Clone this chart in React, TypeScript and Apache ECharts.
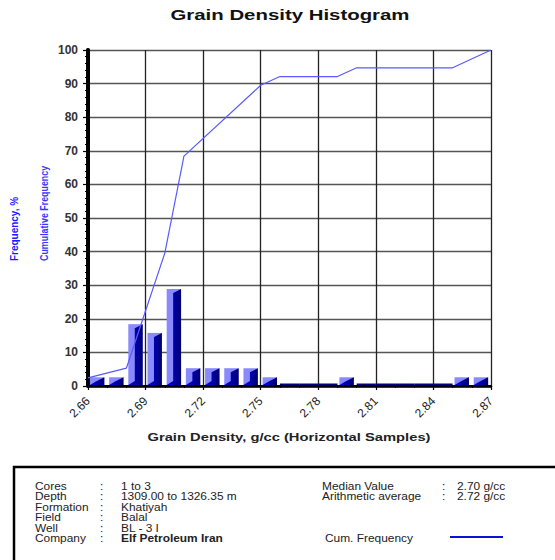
import React, { useEffect, useRef } from "react";
import * as echarts from "echarts";

// Bin start densities (g/cc), bin width 0.01
const binStarts = [
  2.66, 2.67, 2.68, 2.69, 2.7, 2.71, 2.72, 2.73, 2.74, 2.75, 2.76,
  2.77, 2.78, 2.79, 2.8, 2.81, 2.82, 2.83, 2.84, 2.85, 2.86,
];
// Frequency % per bin
const frequency = [
  2.6, 2.6, 18.4, 15.8, 28.9, 5.3, 5.3, 5.3, 5.3, 2.6, 0,
  0, 0, 2.6, 0, 0, 0, 0, 0, 2.6, 2.6,
];
// Cumulative frequency line vertices
const cumDensity = [2.66, 2.68, 2.7, 2.71, 2.75, 2.76, 2.79, 2.8, 2.85, 2.87];
const cumValue = [2.4, 5.3, 39.5, 68.4, 89.5, 92.1, 92.1, 94.7, 94.7, 100];

const xMin = 2.66;
const xMax = 2.87;
const xTickStep = 0.03;
const yTicks = [0, 10, 20, 30, 40, 50, 60, 70, 80, 90, 100];

const infoLeft = [
  ["Cores", "1 to 3"],
  ["Depth", "1309.00 to 1326.35 m"],
  ["Formation", "Khatiyah"],
  ["Field", "Balal"],
  ["Well", "BL - 3 I"],
  ["Company", "Elf Petroleum Iran"],
];
const infoRight = [
  ["Median Value", "2.70 g/cc"],
  ["Arithmetic average", "2.72 g/cc"],
];

const toAxis = (d: number) => Math.round((d - xMin) * 100 * 1000) / 1000;

const FONT = "'Liberation Sans', Arial, sans-serif";
const NARROW = "'Liberation Sans Narrow', 'Liberation Sans', Arial, sans-serif";
const SX = 1.19;

export default function App() {
  const ref = useRef<HTMLDivElement>(null);

  useEffect(() => {
    document.body.style.margin = "0";
    if (!ref.current) return;
    const chart = echarts.init(ref.current, null, { renderer: "svg" });

    const barData = binStarts.map((b, i) => [toAxis(b), toAxis(b) + 1, frequency[i]]);
    const cumData = cumDensity.map((d, i) => [toAxis(d), cumValue[i]]);

    const rowY = [486, 496.5, 507, 517.5, 528, 538.5];
    const txt = (x: number, y: number, text: string, bold = false) => ({
      type: "text",
      x,
      y,
      scaleX: SX,
      style: { text, font: `${bold ? "bold " : ""}10px ${FONT}`, fill: "#222", textVerticalAlign: "middle" },
    });
    const infoTexts: any[] = [];
    infoLeft.forEach((r, i) => {
      infoTexts.push(txt(35, rowY[i], r[0]), txt(100, rowY[i], ":"), txt(121, rowY[i], r[1], r[0] === "Company"));
    });
    infoRight.forEach((r, i) => {
      infoTexts.push(txt(322, rowY[i], r[0]), txt(442, rowY[i], ":"), txt(457, rowY[i], r[1]));
    });

    const option: any = {
      animation: false,
      backgroundColor: "#fff",
      grid: { left: 88, right: 64, top: 50, bottom: 174, containLabel: false },
      xAxis: [
        {
          type: "value",
          min: 0,
          max: toAxis(xMax),
          interval: Math.round(xTickStep * 100),
          axisLine: { show: true, onZero: false, lineStyle: { color: "#000", width: 2 } },
          axisTick: { show: true, length: 4, lineStyle: { color: "#000", width: 1.2 } },
          minorTick: { show: true, splitNumber: 3, length: 2, lineStyle: { color: "#000" } },
          axisLabel: {
            rotate: 45,
            margin: 13,
            fontSize: 12,
            fontFamily: FONT,
            color: "#222",
            formatter: (v: number) => (xMin + v / 100).toFixed(2),
          },
          splitLine: { show: true, lineStyle: { color: "#222", width: 1.3 } },
        },
        {
          type: "value",
          position: "top",
          min: 0,
          max: toAxis(xMax),
          axisLine: { show: true, lineStyle: { color: "#000", width: 2.5 } },
          axisTick: { show: false },
          axisLabel: { show: false },
          splitLine: { show: false },
        },
      ],
      yAxis: [
        {
          type: "value",
          min: yTicks[0],
          max: yTicks[yTicks.length - 1],
          interval: yTicks[1] - yTicks[0],
          axisLine: { show: true, lineStyle: { color: "#000", width: 3.5 } },
          axisTick: { show: true, length: 5, lineStyle: { color: "#000", width: 1.2 } },
          minorTick: { show: true, splitNumber: 5, length: 3, lineStyle: { color: "#000", width: 1 } },
          axisLabel: {
            margin: 10,
            fontSize: 12,
            fontWeight: "bold",
            fontFamily: FONT,
            color: "#333",
            padding: [0, 0, 6, 0],
          },
          splitLine: { show: true, lineStyle: { color: "#555", width: 1.3 } },
        },
        {
          type: "value",
          position: "right",
          min: 0,
          max: 100,
          axisLine: { show: true, lineStyle: { color: "#000", width: 4 } },
          axisTick: { show: false },
          axisLabel: { show: false },
          splitLine: { show: false },
        },
      ],
      series: [
        {
          type: "custom",
          xAxisIndex: 0,
          yAxisIndex: 0,
          data: barData,
          z: 3,
          renderItem: (params: any, api: any) => {
            const x0 = api.value(0);
            const v = api.value(2);
            if (!v) {
              const a = api.coord([x0, 0]);
              const b = api.coord([x0 + 1, 0]);
              return { type: "rect", shape: { x: a[0], y: a[1] - 2.5, width: b[0] - a[0], height: 1.5 }, style: { fill: "#000080" } };
            }
            const pL = api.coord([x0 + 0.1, v]);
            const pR = api.coord([x0 + 0.85, 0]);
            const xL = pL[0], yT = pL[1], xR = pR[0], yB = pR[1] - 1;
            const h = yB - yT;
            const w = xR - xL;
            const xM = xL + w * 0.45;
            const d = Math.min(w * 0.28, h / 2);
            return {
              type: "group",
              children: [
                { type: "rect", shape: { x: xL, y: yT, width: w, height: h }, style: { fill: "#8a8aff" } },
                {
                  type: "polygon",
                  shape: { points: [[xL, yB], [xM, yB - d], [xM, yT + d], [xR, yT], [xR, yB]] },
                  style: {
                    fill: new echarts.graphic.LinearGradient(0, 0, 1, 0, [
                      { offset: 0, color: "#0000f0" },
                      { offset: 1, color: "#00006a" },
                    ]),
                  },
                },
              ],
            };
          },
        },
        {
          type: "line",
          xAxisIndex: 0,
          yAxisIndex: 0,
          data: cumData,
          symbol: "none",
          z: 5,
          lineStyle: { color: "#5a5aff", width: 1.2 },
        },
      ],
      graphic: [
        { type: "text", x: 290, y: 15, scaleX: 1.36, style: { text: "Grain Density Histogram", font: `bold 15px ${FONT}`, fill: "#111", textAlign: "center", textVerticalAlign: "middle" } },
        { type: "text", x: 289, y: 437, scaleX: 1.34, style: { text: "Grain Density, g/cc (Horizontal Samples)", font: `bold 11px ${FONT}`, fill: "#222", textAlign: "center", textVerticalAlign: "middle" } },
        { type: "text", x: 14, y: 261, rotation: Math.PI / 2, scaleX: 0.95, style: { text: "Frequency, %", font: `bold 10.5px ${NARROW}`, fill: "#1a1aff", textAlign: "left", textVerticalAlign: "middle" } },
        { type: "text", x: 44, y: 261, rotation: Math.PI / 2, scaleX: 0.845, style: { text: "Cumulative Frequency", font: `bold 10.5px ${NARROW}`, fill: "#3636ff", textAlign: "left", textVerticalAlign: "middle" } },
        { type: "rect", shape: { x: 14, y: 467, width: 600, height: 140 }, style: { fill: "none", stroke: "#000", lineWidth: 2.5 } },
        ...infoTexts,
        txt(325, 538, "Cum. Frequency"),
        { type: "line", shape: { x1: 450, y1: 537, x2: 503, y2: 537 }, style: { stroke: "#1010d0", lineWidth: 2 } },
      ],
    };

    chart.setOption(option);
    return () => chart.dispose();
  }, []);

  return <div ref={ref} style={{ width: 555, height: 560 }} />;
}
